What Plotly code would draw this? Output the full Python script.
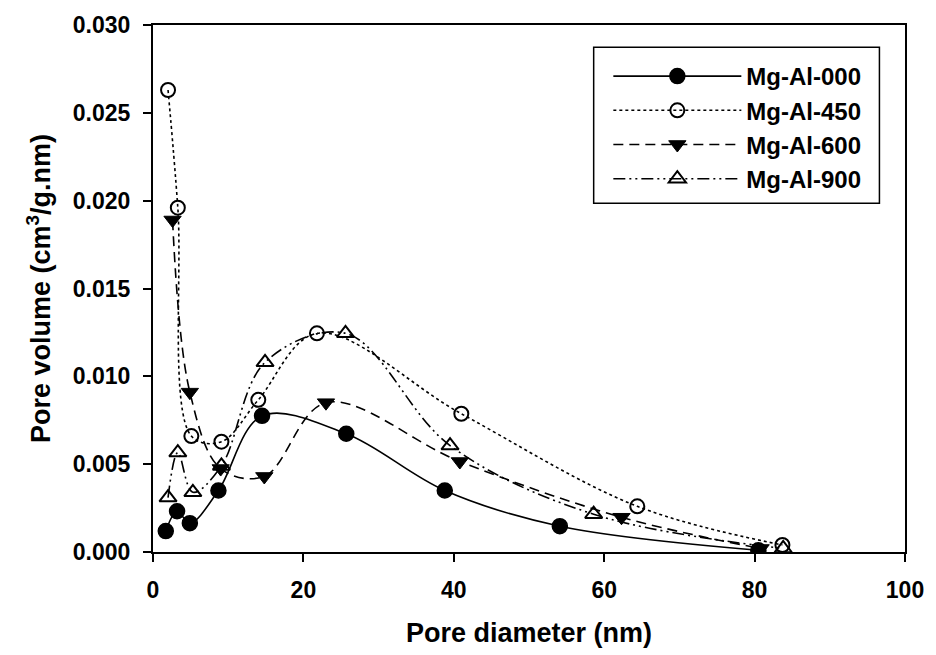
import plotly.graph_objects as go

# ---- data ----
x_000 = [1.7, 3.2, 4.9, 8.7, 14.5, 25.7, 38.8, 54.1, 80.5]
y_000 = [0.00119, 0.00232, 0.00164, 0.0035, 0.00775, 0.00673, 0.0035, 0.00147, 0.0001]

x_450 = [2.0, 3.3, 5.1, 9.1, 14.0, 21.8, 41.0, 64.4, 83.7]
y_450 = [0.0263, 0.0196, 0.0066, 0.00628, 0.00866, 0.01245, 0.00787, 0.0026, 0.0004]

x_600 = [2.6, 4.9, 9.0, 14.8, 23.0, 40.8, 62.3, 80.8]
y_600 = [0.0189, 0.0091, 0.00475, 0.0043, 0.0085, 0.00515, 0.00198, 0.0002]

x_900 = [2.0, 3.3, 5.3, 9.1, 14.9, 25.6, 39.5, 58.6, 83.8]
y_900 = [0.0031, 0.00566, 0.0034, 0.0049, 0.0108, 0.01245, 0.00606, 0.00215, 0.0002]

names = ["Mg-Al-000", "Mg-Al-450", "Mg-Al-600", "Mg-Al-900"]
x_ticks = [0, 20, 40, 60, 80, 100]

FONT = "Arial, Liberation Sans, sans-serif"

fig = go.Figure()

styles = [
    (x_000, y_000, names[0], "solid", dict(symbol="circle", size=15, color="black",
                                            line=dict(color="black", width=1.5))),
    (x_450, y_450, names[1], "dot", dict(symbol="circle-open", size=14, color="black",
                                          line=dict(color="black", width=2))),
    (x_600, y_600, names[2], "10px,6px", dict(symbol="triangle-down", size=15, color="black",
                                               line=dict(color="black", width=1))),
    (x_900, y_900, names[3], "12px,4px,2px,4px,2px,4px", dict(symbol="triangle-up-open", size=15,
                                                             color="black",
                                                             line=dict(color="black", width=2))),
]

for xs, ys, nm, dash, mk in styles:
    fig.add_trace(go.Scatter(
        x=xs, y=ys, name=nm, mode="lines+markers",
        line=dict(color="black", width=1.6, dash=dash, shape="spline", smoothing=1.0),
        marker=mk,
    ))

axis_common = dict(
    showline=True, linecolor="black", linewidth=2, mirror=True,
    ticks="outside", ticklen=8, tickwidth=2, tickcolor="black",
    showgrid=False, zeroline=False,
    tickfont=dict(family=FONT, size=23, color="black", weight="bold"),
)

fig.update_layout(
    width=936, height=655,
    margin=dict(l=153, r=25, t=23, b=102),
    paper_bgcolor="white", plot_bgcolor="white",
    showlegend=True,
    xaxis=dict(range=[0, 100], tickvals=x_ticks, ticklabelstandoff=8, **axis_common,
               title=dict(text="Pore diameter (nm)", standoff=22,
                          font=dict(family=FONT, size=27, color="black", weight="bold"))),
    yaxis=dict(range=[0, 0.030], dtick=0.005, tickformat=".3f", ticklabelstandoff=8,
               **axis_common,
               title=dict(text="Pore volume (cm<sup>3</sup>/g.nm)", standoff=14,
                          font=dict(family=FONT, size=27, color="black", weight="bold"))),
    legend=dict(
        x=0.6055, y=0.945, xanchor="left", yanchor="top",
        bgcolor="rgba(0,0,0,0)", borderwidth=0,
        font=dict(family=FONT, size=24, color="black", weight="bold"),
        itemwidth=128, tracegroupgap=0,
    ),
    shapes=[dict(type="rect", xref="paper", yref="paper",
                 x0=0.586, x1=0.966, y0=0.662, y1=0.958,
                 line=dict(color="black", width=1.5), fillcolor="rgba(0,0,0,0)")],
)

fig.write_html("out.html")
